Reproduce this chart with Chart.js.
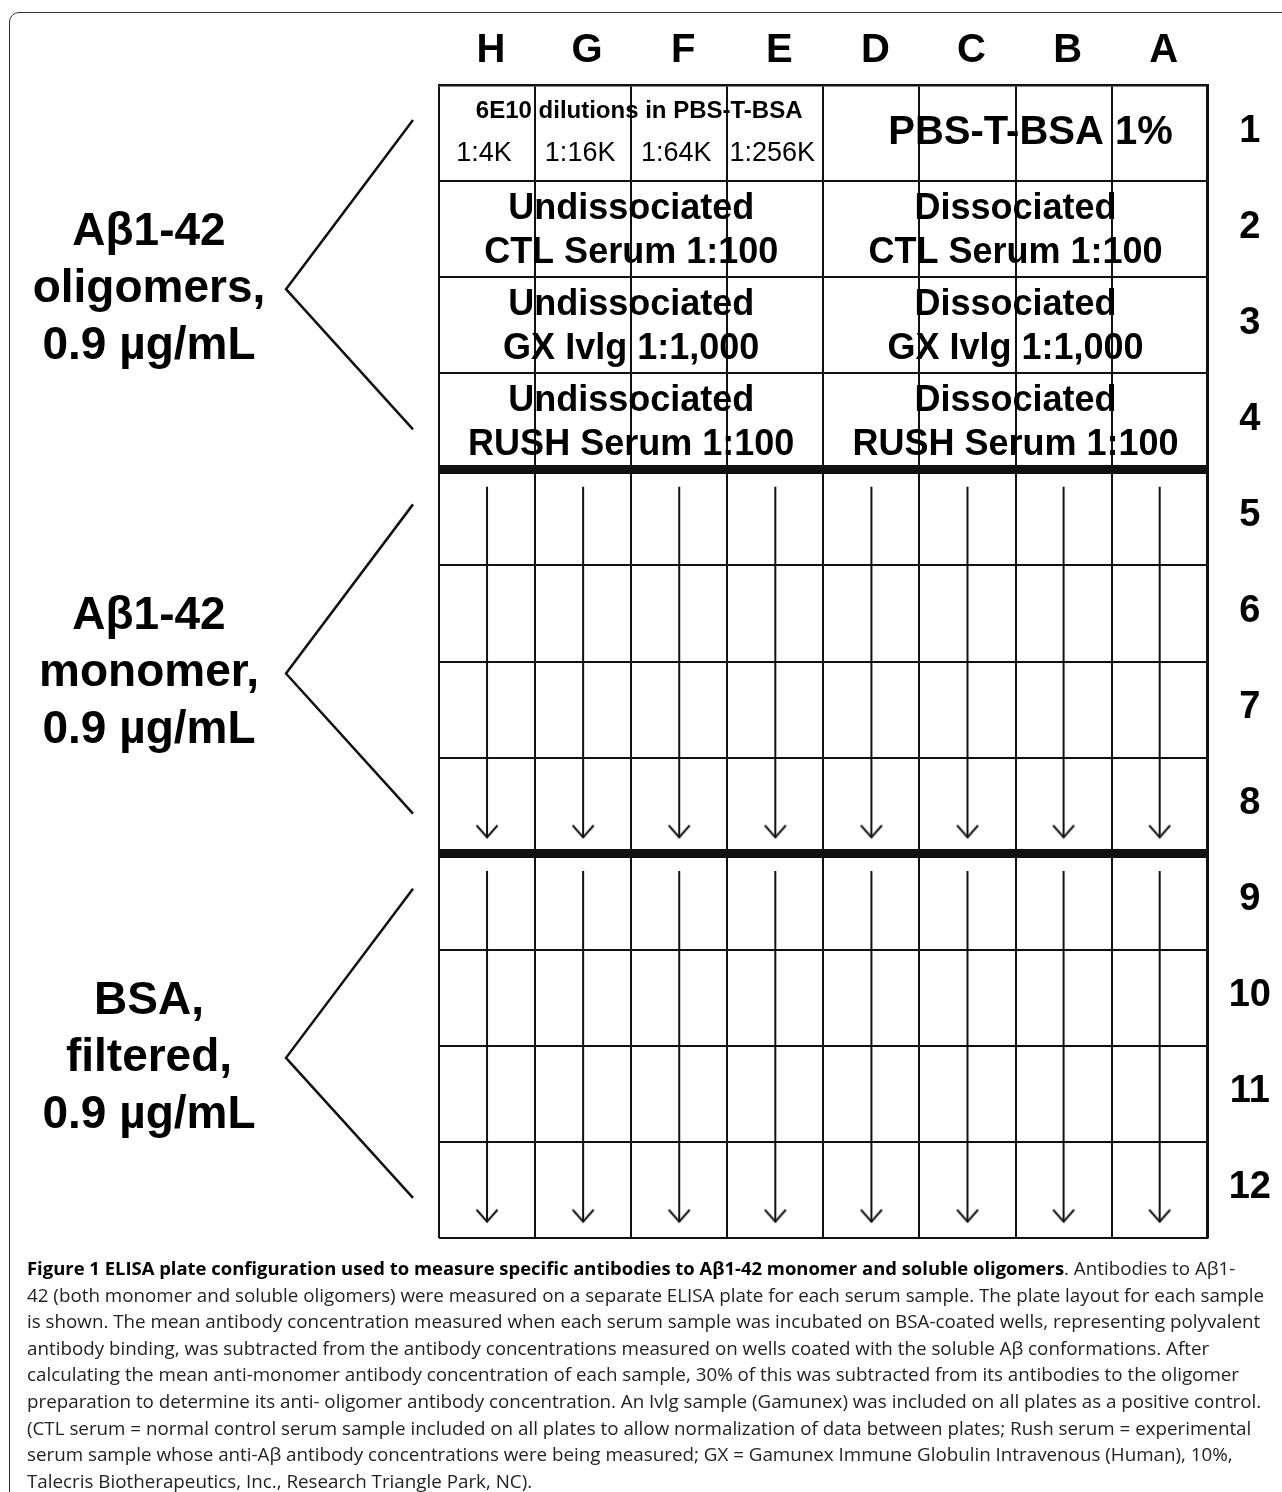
<!DOCTYPE html>
<html>
<head>
<meta charset="utf-8">
<title>ELISA plate configuration</title>
<script src="https://cdn.jsdelivr.net/npm/chart.js@4.4.1/dist/chart.umd.min.js"></script>
<style>
  html, body { margin: 0; padding: 0; background: #fff; }
  #wrap { position: relative; width: 1282px; height: 1492px; overflow: hidden; }
  #frame { position: absolute; left: 9px; top: 12px; width: 1400px; height: 1600px; border: 1.5px solid #333; border-radius: 10px; box-sizing: border-box; }
  #plate { position: absolute; left: 0; top: 0; }
  #caption { position: absolute; left: 27px; top: 1255px; font-family: 'Open Sans', sans-serif; font-size: 18.8px; line-height: 26.6px; color: #222; white-space: nowrap; }
  #caption b { color: #000; font-size: 18.45px; }
</style>
</head>
<body>
<div id="wrap">
  <div id="frame"></div>
  <canvas id="plate" width="1282" height="1492"></canvas>
  <div id="caption"><b>Figure 1 ELISA plate configuration used to measure specific antibodies to Aβ1-42 monomer and soluble oligomers</b>. Antibodies to Aβ1-<br>42 (both monomer and soluble oligomers) were measured on a separate ELISA plate for each serum sample. The plate layout for each sample<br>is shown. The mean antibody concentration measured when each serum sample was incubated on BSA-coated wells, representing polyvalent<br>antibody binding, was subtracted from the antibody concentrations measured on wells coated with the soluble Aβ conformations. After<br>calculating the mean anti-monomer antibody concentration of each sample, 30% of this was subtracted from its antibodies to the oligomer<br>preparation to determine its anti- oligomer antibody concentration. An Ivlg sample (Gamunex) was included on all plates as a positive control.<br>(CTL serum = normal control serum sample included on all plates to allow normalization of data between plates; Rush serum = experimental<br>serum sample whose anti-Aβ antibody concentrations were being measured; GX = Gamunex Immune Globulin Intravenous (Human), 10%,<br>Talecris Biotherapeutics, Inc., Research Triangle Park, NC).</div>
</div>
<script>
// plate columns (left to right) and rows (top to bottom)
const colLabels = ['H', 'G', 'F', 'E', 'D', 'C', 'B', 'A'];
const rowLabels = ['1', '2', '3', '4', '5', '6', '7', '8', '9', '10', '11', '12'];

// row 1: 6E10 standard dilutions and blank wells
const dilutionTitle = '6E10 dilutions in PBS-T-BSA';
const dilutionCols = ['H', 'G', 'F', 'E'];
const dilutions = ['1:4K', '1:16K', '1:64K', '1:256K'];
const blankText = 'PBS-T-BSA 1%';

// rows 2-4: samples, left half undissociated, right half dissociated
const leftCols = ['H', 'E'];
const rightCols = ['D', 'A'];
const sampleRows = ['2', '3', '4'];
const leftStates = ['Undissociated', 'Undissociated', 'Undissociated'];
const rightStates = ['Dissociated', 'Dissociated', 'Dissociated'];
const samples = ['CTL Serum 1:100', 'GX Ivlg 1:1,000', 'RUSH Serum 1:100'];

// coatings, each over a block of rows
const coatings = [
  ['Aβ1-42', 'oligomers,', '0.9 µg/mL'],
  ['Aβ1-42', 'monomer,', '0.9 µg/mL'],
  ['BSA,', 'filtered,', '0.9 µg/mL'],
];
const coatingRows = [['1', '4'], ['5', '8'], ['9', '12']];

// serial dilution arrows down every column
const arrowRuns = [['5', '8'], ['9', '12']];

const FONT = '"Liberation Sans", Arial, sans-serif';
const INK = '#111';

// thick separators above the first row of each later coating block
const breakIdx = coatingRows.slice(1).map((r) => rowLabels.indexOf(r[0]));

// open arrow head, tip at the canvas centre
const chevron = document.createElement('canvas');
chevron.width = 26;
chevron.height = 30;
const cc = chevron.getContext('2d');
cc.strokeStyle = INK;
cc.lineWidth = 2;
cc.beginPath();
cc.moveTo(2.5, 3);
cc.lineTo(13, 15);
cc.lineTo(23.5, 3);
cc.stroke();

const datasets = [];
arrowRuns.forEach(([from, to]) => {
  colLabels.forEach((col, c) => {
    datasets.push({
      label: col + from + '-' + to,
      xAxisID: 'xl',
      yAxisID: 'yl',
      data: [
        { x: c, y: rowLabels.indexOf(from) - 0.5 + 0.18 },
        { x: c, y: rowLabels.indexOf(to) + 0.5 - 0.17 },
      ],
      borderColor: INK,
      borderWidth: 2,
      fill: false,
      tension: 0,
      pointStyle: chevron,
      pointRadius: (ctx) => (ctx.dataIndex === 1 ? 8 : 0),
    });
  });
});

const plateText = {
  id: 'plateText',
  afterDatasetsDraw(chart) {
    const { ctx, chartArea, scales: { x, y } } = chart;
    const cx = (col) => x.getPixelForValue(colLabels.indexOf(col));
    const cy = (row) => y.getPixelForValue(rowLabels.indexOf(row));
    const leftMid = (cx(leftCols[0]) + cx(leftCols[1])) / 2;
    const rightMid = (cx(rightCols[0]) + cx(rightCols[1])) / 2;

    ctx.save();
    ctx.fillStyle = '#000';
    ctx.textAlign = 'center';
    ctx.textBaseline = 'middle';

    // row 1
    ctx.font = 'bold 24px ' + FONT;
    ctx.fillText(dilutionTitle, leftMid + 8, cy('1') - 22);
    ctx.font = '27px ' + FONT;
    dilutions.forEach((d, i) => ctx.fillText(d, cx(dilutionCols[i]) - 3, cy('1') + 21));
    ctx.font = 'bold 40px ' + FONT;
    ctx.fillText(blankText, rightMid + 15, cy('1'));

    // rows 2-4
    ctx.font = 'bold 36px ' + FONT;
    sampleRows.forEach((row, i) => {
      ctx.fillText(leftStates[i], leftMid, cy(row) - 20);
      ctx.fillText(samples[i], leftMid, cy(row) + 24);
      ctx.fillText(rightStates[i], rightMid, cy(row) - 20);
      ctx.fillText(samples[i], rightMid, cy(row) + 24);
    });

    // coating brackets and labels
    ctx.strokeStyle = INK;
    ctx.lineWidth = 2.5;
    ctx.font = 'bold 46px ' + FONT;
    coatingRows.forEach(([first, last], g) => {
      const i0 = rowLabels.indexOf(first);
      const i1 = rowLabels.indexOf(last);
      const apex = (y.getPixelForValue(i0 - 0.5) + y.getPixelForValue(i1 + 0.5)) / 2 + 12;
      ctx.beginPath();
      ctx.moveTo(chartArea.left - 26, cy(first) - 13);
      ctx.lineTo(chartArea.left - 153, apex);
      ctx.lineTo(chartArea.left - 26, cy(last) + 8);
      ctx.stroke();
      coatings[g].forEach((line, k) => {
        ctx.fillText(line, chartArea.left - 290, apex + (k - 1) * 57);
      });
    });
    ctx.restore();
  },
};

new Chart(document.getElementById('plate'), {
  type: 'line',
  data: { datasets: datasets },
  options: {
    responsive: false,
    animation: false,
    events: [],
    devicePixelRatio: 1,
    layout: { padding: { left: 439, top: 17, right: -10, bottom: 254 } },
    plugins: {
      legend: { display: false },
      tooltip: { enabled: false },
    },
    scales: {
      x: {
        type: 'category',
        labels: colLabels,
        position: 'top',
        offset: true,
        grid: { offset: true, color: INK, lineWidth: 2, drawTicks: false },
        border: { color: INK, width: 2.5 },
        ticks: {
          autoSkip: false,
          maxRotation: 0,
          padding: 10,
          labelOffset: 4,
          color: '#000',
          font: { family: FONT, size: 40, weight: 'bold' },
        },
      },
      y: {
        type: 'category',
        labels: rowLabels,
        position: 'right',
        offset: true,
        grid: {
          offset: true,
          color: INK,
          drawTicks: false,
          lineWidth: (ctx) => (breakIdx.includes(ctx.index) ? 9 : 2),
        },
        border: { color: INK, width: 2.5 },
        ticks: {
          autoSkip: false,
          padding: 21,
          crossAlign: 'center',
          labelOffset: -2,
          color: '#000',
          font: { family: FONT, size: 38, weight: 'bold' },
        },
      },
      xl: { type: 'linear', axis: 'x', display: false, min: -0.5, max: 7.5 },
      yl: { type: 'linear', axis: 'y', display: false, min: -0.5, max: 11.5, reverse: true },
    },
  },
  plugins: [plateText],
});
</script>
</body>
</html>
